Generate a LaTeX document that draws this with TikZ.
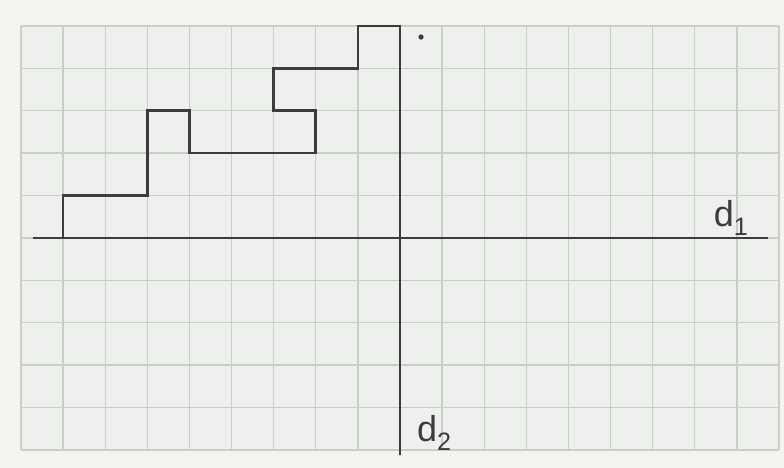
\documentclass[tikz,border=0pt]{standalone}
\usepackage{fontspec}
\setmainfont{Liberation Sans}
\definecolor{paper}{HTML}{F3F3F0}
\definecolor{cell}{HTML}{EDF0EC}
\definecolor{gridc}{HTML}{C9CEC9}
\definecolor{ink}{HTML}{3C3C3C}
\tikzset{
  gridline/.style={draw=gridc, line width=1.4pt},
  axisline/.style={draw=ink, line width=2.6pt},
  stairline/.style={draw=ink, line width=2.6pt, line join=miter},
  lab/.style={inner sep=0pt, font=\fontsize{36}{36}\selectfont, text=ink, anchor=base west}
}
\begin{document}
\begin{tikzpicture}[x=42.1pt,y=42.4pt]
  \useasboundingbox[fill=paper] (-9.501,-5.4245) rectangle (9.121,5.613);
  \fill[cell] (-9,-5) rectangle (9,5);
  \foreach \i in {-9,...,9} \draw[gridline] (\i,-5) -- (\i,5);
  \foreach \j in {-5,...,5} \draw[gridline] (-9,\j) -- (9,\j);
  % axes
  \coordinate (xl) at (-8.72,0);
  \coordinate (xr) at (8.74,0);
  \coordinate (yt) at (0,5.02);
  \coordinate (yb) at (0,-5.12);
  \draw[axisline] (xl) -- (xr);
  \draw[axisline] (yt) -- (yb);
  % staircase
  \draw[stairline] (-8,0) -- (-8,1) -- (-6,1) -- (-6,3) -- (-5,3) -- (-5,2)
    -- (-2,2) -- (-2,3) -- (-3,3) -- (-3,4) -- (-1,4) -- (-1,5) -- (0,5);
  % dot
  \fill[ink] (0.5,4.74) circle (2.6pt);
  % labels
  \node[lab] (d1) at (7.45,0.26) {d\textsubscript{1}};
  \node[lab] (d2) at (0.40,-4.81) {d\textsubscript{2}};
\end{tikzpicture}
\end{document}
